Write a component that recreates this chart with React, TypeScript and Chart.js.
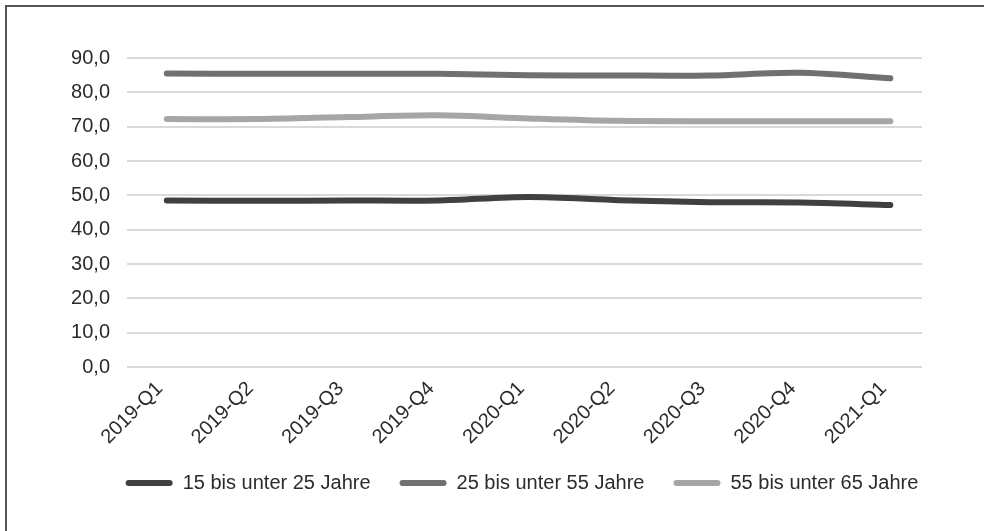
import React, { useEffect, useRef } from "react";
import { Chart, registerables } from "chart.js";

Chart.register(...registerables);

const categories = [
  "2019-Q1",
  "2019-Q2",
  "2019-Q3",
  "2019-Q4",
  "2020-Q1",
  "2020-Q2",
  "2020-Q3",
  "2020-Q4",
  "2021-Q1",
];

const seriesNames = [
  "15 bis unter 25 Jahre",
  "25 bis unter 55 Jahre",
  "55 bis unter 65 Jahre",
];

const values15to25 = [48.5, 48.4, 48.5, 48.5, 49.5, 48.6, 48.0, 47.9, 47.2];
const values25to55 = [85.5, 85.4, 85.4, 85.4, 85.0, 84.9, 84.9, 85.7, 84.1];
const values55to65 = [72.2, 72.2, 72.8, 73.3, 72.4, 71.7, 71.6, 71.6, 71.6];

const seriesColors = ["#404040", "#707070", "#a6a6a6"];

const yTickValues = [0, 10, 20, 30, 40, 50, 60, 70, 80, 90];

const FONT = '"Liberation Sans", Arial, Helvetica, sans-serif';
const TEXT = "#2b2b2b";

export default function App() {
  const canvasRef = useRef<HTMLCanvasElement | null>(null);

  useEffect(() => {
    const canvas = canvasRef.current;
    if (!canvas) return;
    const toPoints = (vals: number[]) => vals.map((v, i) => ({ x: i, y: v }));
    const allSeries = [values15to25, values25to55, values55to65];

    const chart = new Chart(canvas, {
      type: "line",
      data: {
        datasets: allSeries.map((vals, i) => ({
          label: seriesNames[i],
          data: toPoints(vals),
          borderColor: seriesColors[i],
          backgroundColor: seriesColors[i],
          borderWidth: 6,
          borderCapStyle: "round" as const,
          borderJoinStyle: "round" as const,
          pointRadius: 0,
          pointHoverRadius: 0,
          tension: 0.3,
          fill: false,
          xAxisID: "x",
          yAxisID: "y",
        })),
      },
      options: {
        responsive: false,
        animation: false,
        events: [],
        layout: { padding: { left: 60, right: 0, top: 58, bottom: 28 } },
        plugins: {
          tooltip: { enabled: false },
          legend: {
            position: "bottom",
            align: "center",
            labels: {
              boxWidth: 47,
              boxHeight: 6,
              padding: 29,
              color: TEXT,
              font: { size: 20, family: FONT },
              generateLabels: (c: any) =>
                c.data.datasets.map((ds: any, i: number) => ({
                  text: ds.label,
                  fillStyle: ds.borderColor,
                  strokeStyle: ds.borderColor,
                  lineWidth: 0,
                  borderRadius: 3,
                  hidden: false,
                  datasetIndex: i,
                  fontColor: TEXT,
                })),
            },
          },
        },
        scales: {
          x: {
            type: "linear",
            min: -0.44,
            max: 8.35,
            afterBuildTicks: (s: any) => {
              s.ticks = categories.map((_, i) => ({ value: i }));
            },
            afterFit: (s: any) => {
              s.height = 77;
            },
            ticks: {
              autoSkip: false,
              minRotation: 45,
              maxRotation: 45,
              padding: 10,
              labelOffset: -7,
              color: TEXT,
              font: { size: 20, family: FONT },
              callback: (v: any) => categories[v as number] ?? "",
            },
            grid: { display: false, drawTicks: false },
            border: { display: false },
          },
          y: {
            type: "linear",
            position: "left",
            min: 0,
            max: 90,
            afterBuildTicks: (s: any) => {
              s.ticks = yTickValues.map((v) => ({ value: v }));
            },
            afterFit: (s: any) => {
              s.width = 67;
            },
            ticks: {
              padding: 17,
              color: TEXT,
              font: { size: 20, family: FONT },
              callback: (v: any) => Number(v).toFixed(1).replace(".", ","),
            },
            grid: { color: "#d9d9d9", lineWidth: 2, drawTicks: false },
            border: { display: false },
          },
          yRight: {
            type: "linear",
            position: "right",
            display: true,
            ticks: { display: false },
            grid: { display: false, drawTicks: false },
            border: { display: false },
            afterFit: (s: any) => {
              s.width = 62;
            },
          },
        },
      } as any,
    });
    return () => chart.destroy();
  }, []);

  return (
    <div
      style={{
        position: "fixed",
        left: 0,
        top: 0,
        width: 984,
        height: 531,
        background: "#ffffff",
        overflow: "hidden",
      }}
    >
      <div
        style={{
          position: "absolute",
          left: 5,
          top: 5,
          width: 1200,
          height: 800,
          border: "2px solid #555555",
          boxSizing: "border-box",
        }}
      />
      <canvas
        ref={canvasRef}
        width={984}
        height={531}
        style={{ position: "absolute", left: 0, top: 0, width: 984, height: 531 }}
      />
    </div>
  );
}
